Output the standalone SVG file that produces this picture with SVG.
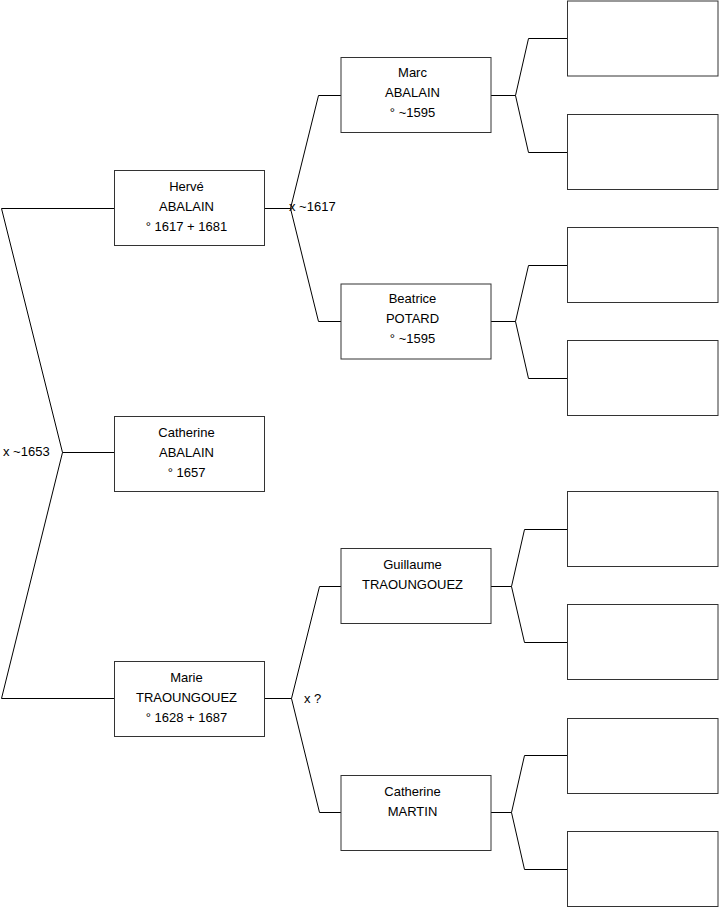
<svg xmlns="http://www.w3.org/2000/svg" width="719" height="908" viewBox="0 0 719 908">
<style>
.box{fill:#fff;stroke:#333;stroke-width:1}
.ln{fill:none;stroke:#000;stroke-width:1}
text{font-family:"Liberation Sans",Arial,sans-serif;font-size:13px;fill:#000}
.c{text-anchor:middle}
</style>
<rect width="719" height="908" fill="#fff"/>
<g id="connectors">
<path class="ln" d="M114 208.5H1.5L62.5 452.5L1.5 698.5H114M62.5 452.5H114"/>
<path class="ln" d="M265 208.5H290.5L318.5 95.5H341M290.5 208.5L318.5 321.5H341"/>
<path class="ln" d="M265 698.5H291.5L319.5 586.5H341M291.5 698.5L319.5 812.5H341"/>
<path class="ln" d="M491 95.5H515.5L528.5 38.5H567M515.5 95.5L528.5 152.5H567"/>
<path class="ln" d="M491 321.5H515.5L528.5 265.5H567M515.5 321.5L528.5 378.5H567"/>
<path class="ln" d="M491 586.5H511.5L524.5 529.5H567M511.5 586.5L524.5 642.5H567"/>
<path class="ln" d="M491 812.5H511.5L524.5 755.5H567M511.5 812.5L524.5 869.5H567"/>
<text x="3" y="456">x ~1653</text>
<text x="289" y="211">x ~1617</text>
<text x="304" y="703">x ?</text>
</g>
<g id="herve"><rect class="box" x="114.5" y="170.5" width="150" height="75"/>
<text class="c" x="186.5" y="191">Hervé</text><text class="c" x="186.5" y="211">ABALAIN</text><text class="c" x="186.5" y="231">° 1617 + 1681</text></g>
<g id="catherine-abalain"><rect class="box" x="114.5" y="416.5" width="150" height="75"/>
<text class="c" x="186.5" y="437">Catherine</text><text class="c" x="186.5" y="457">ABALAIN</text><text class="c" x="186.5" y="477">° 1657</text></g>
<g id="marie"><rect class="box" x="114.5" y="661.5" width="150" height="75"/>
<text class="c" x="186.5" y="682">Marie</text><text class="c" x="186.5" y="702">TRAOUNGOUEZ</text><text class="c" x="186.5" y="722">° 1628 + 1687</text></g>
<g id="marc"><rect class="box" x="341" y="57.5" width="150" height="75"/>
<text class="c" x="412.5" y="77">Marc</text><text class="c" x="412.5" y="97">ABALAIN</text><text class="c" x="412.5" y="117">° ~1595</text></g>
<g id="beatrice"><rect class="box" x="341" y="284" width="150" height="75"/>
<text class="c" x="412.5" y="303">Beatrice</text><text class="c" x="412.5" y="323">POTARD</text><text class="c" x="412.5" y="343">° ~1595</text></g>
<g id="guillaume"><rect class="box" x="341" y="548.5" width="150" height="75"/>
<text class="c" x="412.5" y="569">Guillaume</text><text class="c" x="412.5" y="589">TRAOUNGOUEZ</text></g>
<g id="catherine-martin"><rect class="box" x="341" y="775.5" width="150" height="75"/>
<text class="c" x="412.5" y="796">Catherine</text><text class="c" x="412.5" y="816">MARTIN</text></g>
<g id="p1"><rect class="box" x="567.5" y="1" width="150.5" height="75"/></g>
<g id="p2"><rect class="box" x="567.5" y="114.5" width="150.5" height="75"/></g>
<g id="p3"><rect class="box" x="567.5" y="227.5" width="150.5" height="75"/></g>
<g id="p4"><rect class="box" x="567.5" y="340.5" width="150.5" height="75"/></g>
<g id="p5"><rect class="box" x="567.5" y="491.5" width="150.5" height="75"/></g>
<g id="p6"><rect class="box" x="567.5" y="604.5" width="150.5" height="75"/></g>
<g id="p7"><rect class="box" x="567.5" y="718.5" width="150.5" height="75"/></g>
<g id="p8"><rect class="box" x="567.5" y="831.5" width="150.5" height="75"/></g>
</svg>
